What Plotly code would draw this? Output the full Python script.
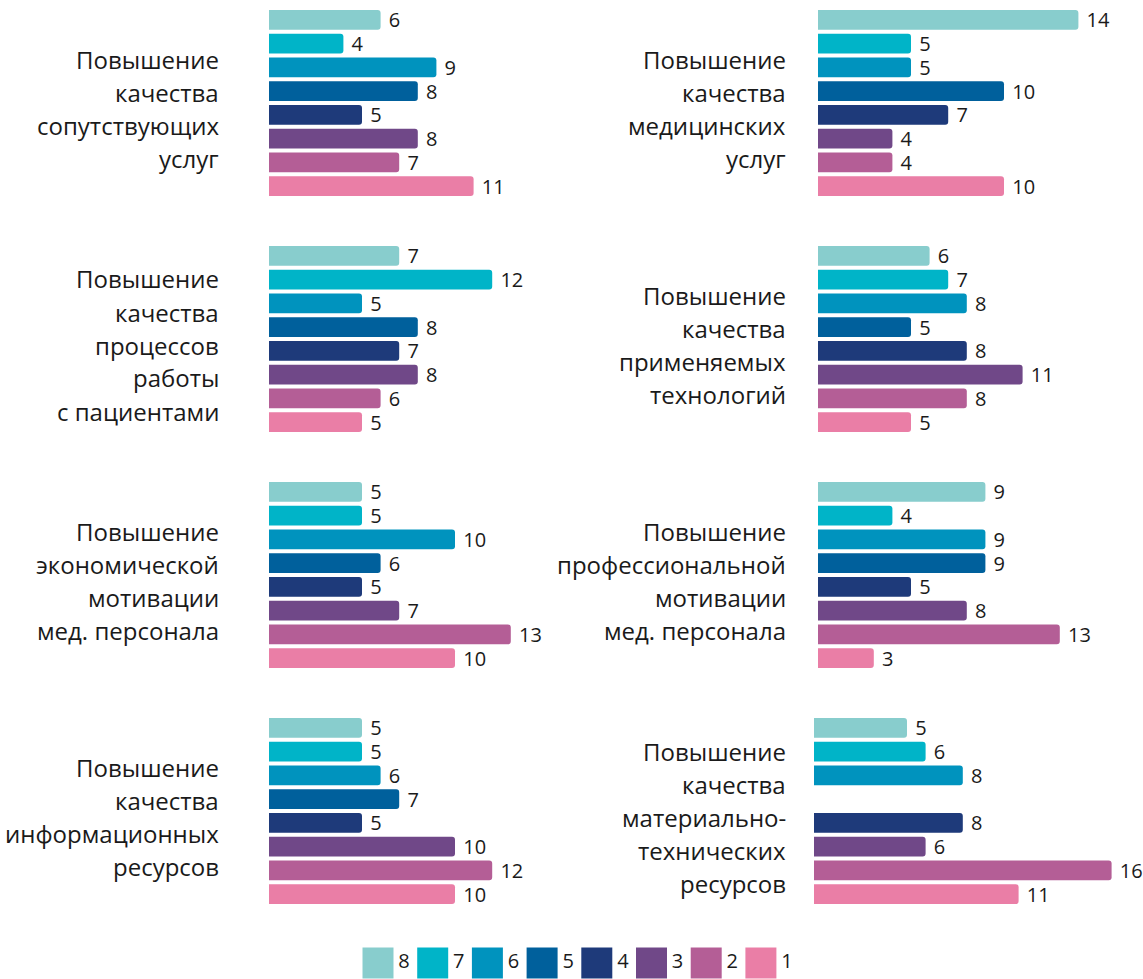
import plotly.graph_objects as go

# Series 8 (top) .. 1 (bottom)
series = [8, 7, 6, 5, 4, 3, 2, 1]
colors = ["#88CDCD", "#00B4C8", "#0093BE", "#00609C",
          "#1E3A7A", "#704888", "#B45E96", "#EA7EA6"]

categories = [
    ["Повышение", "качества", "сопутствующих", "услуг"],
    ["Повышение", "качества", "медицинских", "услуг"],
    ["Повышение", "качества", "процессов", "работы", "с пациентами"],
    ["Повышение", "качества", "применяемых", "технологий"],
    ["Повышение", "экономической", "мотивации", "мед. персонала"],
    ["Повышение", "профессиональной", "мотивации", "мед. персонала"],
    ["Повышение", "качества", "информационных", "ресурсов"],
    ["Повышение", "качества", "материально-", "технических", "ресурсов"],
]

soputstv_uslugi = [6, 4, 9, 8, 5, 8, 7, 11]
med_uslugi = [14, 5, 5, 10, 7, 4, 4, 10]
processy = [7, 12, 5, 8, 7, 8, 6, 5]
tehnologii = [6, 7, 8, 5, 8, 11, 8, 5]
ekon_motivaciya = [5, 5, 10, 6, 5, 7, 13, 10]
prof_motivaciya = [9, 4, 9, 9, 5, 8, 13, 3]
inform_resursy = [5, 5, 6, 7, 5, 10, 12, 10]
mat_teh_resursy = [5, 6, 8, None, 8, 6, 16, 11]

values = [soputstv_uslugi, med_uslugi, processy, tehnologii,
          ekon_motivaciya, prof_motivaciya, inform_resursy, mat_teh_resursy]

W, H = 1143, 979
FONT = "Open Sans"
TEXT_COLOR = "#1a1a1a"
PX_PER_UNIT = 18.6

fig = go.Figure()
layout_axes = {}
annotations = []

for p in range(8):
    row, col = divmod(p, 2)
    top = 8 + 236 * row
    bottom = top + 190
    x0 = 269 if col == 0 else (818 if p != 7 else 814)
    x1 = 587 if col == 0 else W
    xmax = (x1 - x0) / PX_PER_UNIT
    idx = "" if p == 0 else str(p + 1)
    xa, ya = "x" + idx, "y" + idx

    fig.add_trace(go.Bar(
        x=values[p], y=series, orientation="h",
        marker=dict(color=colors, cornerradius=3, line=dict(width=0)),
        width=0.84,
        texttemplate="\u00a0%{x}", textposition="outside",
        textfont=dict(family=FONT, size=20, color=TEXT_COLOR),
        constraintext="none", cliponaxis=False,
        showlegend=False, hoverinfo="skip",
        xaxis=xa, yaxis=ya,
    ))

    layout_axes["xaxis" + idx] = dict(
        domain=[x0 / W, x1 / W], range=[0, xmax], visible=False,
        anchor=ya, fixedrange=True)
    layout_axes["yaxis" + idx] = dict(
        domain=[1 - bottom / H, 1 - top / H], range=[0.5, 8.5], visible=False,
        anchor=xa, fixedrange=True)

    # category label, one annotation per line, right-aligned left of the bars
    lines = categories[p]
    center = (top + bottom) / 2 + 6
    n = len(lines)
    right_edge = 221 if col == 0 else 788
    for k, line in enumerate(lines):
        ypx = center + (k - (n - 1) / 2) * 33
        annotations.append(dict(
            text=line, xref="paper", yref="paper",
            x=right_edge / W, y=1 - ypx / H,
            xanchor="right", yanchor="middle", showarrow=False,
            font=dict(family=FONT, size=24, color=TEXT_COLOR)))

# legend row: colored squares with series numbers
leg_x0, leg_step = 378, 54.7
fig.add_trace(go.Scatter(
    x=list(range(len(series))), y=[0.5] * len(series),
    mode="markers+text",
    marker=dict(symbol="square", size=31, color=colors, line=dict(width=0)),
    text=[str(s) for s in series], textposition="middle right",
    textfont=dict(family=FONT, size=20, color=TEXT_COLOR),
    showlegend=False, hoverinfo="skip", cliponaxis=False,
    xaxis="x9", yaxis="y9",
))
layout_axes["xaxis9"] = dict(
    domain=[(leg_x0 - leg_step / 2) / W, (leg_x0 + leg_step * 7.5) / W],
    range=[-0.5, 7.5], visible=False, anchor="y9", fixedrange=True)
layout_axes["yaxis9"] = dict(
    domain=[1 - 978 / H, 1 - 948 / H], range=[0, 1], visible=False,
    anchor="x9", fixedrange=True)

fig.update_layout(
    width=W, height=H,
    margin=dict(l=0, r=0, t=0, b=0),
    paper_bgcolor="white", plot_bgcolor="white",
    showlegend=False,
    annotations=annotations,
    **layout_axes,
)

fig.write_html("out.html")
